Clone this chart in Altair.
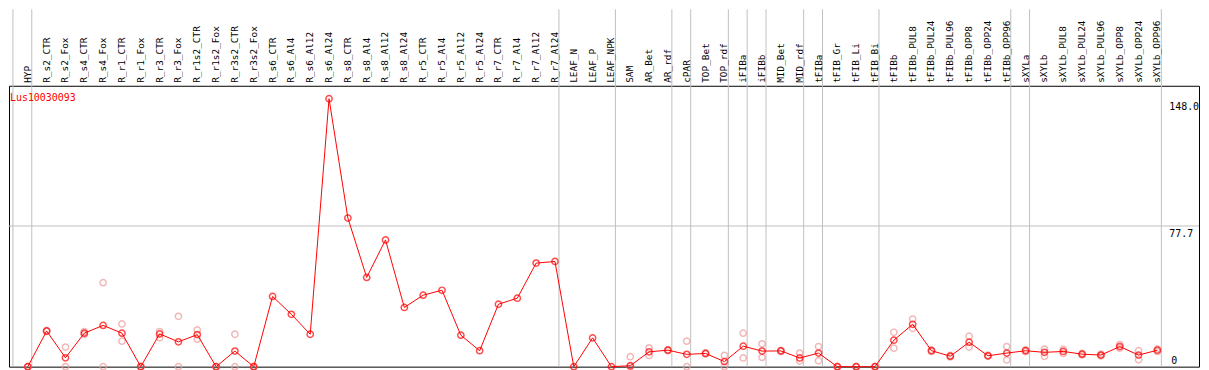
import altair as alt
import pandas as pd

gene = "Lus10030093"

categories = [
    "HYP", "R_s2_CTR", "R_s2_Fox", "R_s4_CTR", "R_s4_Fox", "R_r1_CTR", "R_r1_Fox",
    "R_r3_CTR", "R_r3_Fox", "R_r1s2_CTR", "R_r1s2_Fox", "R_r3s2_CTR", "R_r3s2_Fox",
    "R_s6_CTR", "R_s6_Al4", "R_s6_Al12", "R_s6_Al24", "R_s8_CTR", "R_s8_Al4",
    "R_s8_Al12", "R_s8_Al24", "R_r5_CTR", "R_r5_Al4", "R_r5_Al12", "R_r5_Al24",
    "R_r7_CTR", "R_r7_Al4", "R_r7_Al12", "R_r7_Al24", "LEAF_N", "LEAF_P", "LEAF_NPK",
    "SAM", "AR_Bet", "AR_rdf", "cPAR", "TOP_Bet", "TOP_rdf", "iFIBa", "iFIBb",
    "MID_Bet", "MID_rdf", "tFIBa", "tFIB_Gr", "tFIB_Li", "tFIB_Bi", "tFIBb",
    "tFIBb_PUL8", "tFIBb_PUL24", "tFIBb_PUL96", "tFIBb_OPP8", "tFIBb_OPP24",
    "tFIBb_OPP96", "sXYLa", "sXYLb", "sXYLb_PUL8", "sXYLb_PUL24", "sXYLb_PUL96",
    "sXYLb_OPP8", "sXYLb_OPP24", "sXYLb_OPP96",
]

means = [
    0.0, 19.7, 4.9, 18.5, 22.8, 18.5, 0.0, 18.1, 13.7, 17.7, 0.0, 8.6, 0.0,
    38.8, 28.9, 17.9, 148.0, 82.1, 49.3, 70.0, 32.7, 39.5, 42.2, 17.4, 8.8,
    34.5, 37.8, 57.2, 58.1, 0.0, 15.9, 0.0,
    0.5, 8.2, 9.1, 6.8, 7.3, 2.8, 11.3, 8.6, 8.7, 4.8, 7.5, 0.0, 0.0, 0.0, 14.6,
    23.4, 8.8, 5.8, 13.5, 6.0, 7.5, 8.8, 7.9, 8.4, 6.9, 6.4, 11.1, 6.4, 9.1,
]

rep1 = [
    0.0, 19.9, 10.8, 19.4, 46.4, 23.6, 0.0, 19.4, 27.8, 20.3, 0.0, 17.9, 0.0,
    None, None, None, None, None, None, None, None, None, None, None, None,
    None, None, None, None, None, None, None,
    5.5, 10.4, 9.4, 14.1, 7.6, 6.2, 18.5, 12.6, 9.0, 7.5, 11.1, 0.0, 0.0, 0.0, 19.0,
    26.3, 9.2, 6.2, 16.8, 6.3, 11.1, 9.3, 9.7, 9.5, 7.3, 6.9, 12.2, 8.8, 9.8,
]

rep2 = [
    0.0, 19.5, 0.0, 17.9, 0.0, 14.1, 0.0, 15.9, 0.0, 15.2, 0.0, 0.0, 0.0,
    None, None, None, None, None, None, None, None, None, None, None, None,
    None, None, None, None, None, None, None,
    0.0, 6.2, 8.8, 0.0, 7.0, 0.0, 4.8, 5.1, 8.4, 3.1, 3.3, 0.0, 0.0, 0.0, 10.2,
    21.2, 8.4, 5.4, 10.8, 5.7, 3.7, 8.3, 5.7, 7.3, 6.5, 5.9, 10.2, 3.8, 8.4,
]

# group boundaries: a separator follows these category indices
separators_after = [-1, 0, 28, 31, 34, 35, 37, 38, 39, 41, 42, 45, 52, 53, 60]
grid_values = [77.7]
tick_values = [148.0, 77.7]
tick_labels = ["148.0", "77.7"]

W, H = 1199, 283
xs = alt.Scale(domain=[-1.0, 62.21], nice=False, zero=False)
ys = alt.Scale(domain=[0, 155.15], nice=False, zero=False)

df = pd.DataFrame({"i": list(range(len(categories))), "cat": categories, "mean": means})
reps = []
for i, (a, b) in enumerate(zip(rep1, rep2)):
    for v in (a, b):
        if v is not None:
            reps.append({"i": i, "v": v})
reps = pd.DataFrame(reps)
sep = pd.DataFrame({"s": [a + 0.21 for a in separators_after]})
grid = pd.DataFrame({"g": grid_values})
ticks = pd.DataFrame({"v": tick_values, "t": tick_labels})
zero = pd.DataFrame({"v": [0.0], "t": ["0"]})
title = pd.DataFrame({"t": [gene]})

MONO = "DejaVu Sans Mono"
GRAY = "#c0c0c0"

sep_layer = alt.Chart(sep).mark_rule(color=GRAY, strokeWidth=1).encode(
    x=alt.X("s:Q", scale=xs, axis=None),
    y=alt.value(-77),
    y2=alt.value(H),
)
grid_layer = alt.Chart(grid).mark_rule(color=GRAY, strokeWidth=1).encode(
    y=alt.Y("g:Q", scale=ys, axis=None),
)
label_layer = alt.Chart(df).mark_text(
    angle=270, align="left", baseline="middle", font=MONO, fontSize=9.5, color="black"
).encode(
    x=alt.X("i:Q", scale=xs, axis=None),
    y=alt.value(-3),
    text="cat:N",
)
rep_layer = alt.Chart(reps).mark_point(
    shape="circle", filled=False, color="#ee9a9a", size=40, strokeWidth=1.5
).encode(
    x=alt.X("i:Q", scale=xs, axis=None),
    y=alt.Y("v:Q", scale=ys, axis=None),
)
line_layer = alt.Chart(df).mark_line(color="red", strokeWidth=1).encode(
    x=alt.X("i:Q", scale=xs, axis=None),
    y=alt.Y("mean:Q", scale=ys, axis=None),
)
pt_layer = alt.Chart(df).mark_point(
    shape="circle", filled=False, color="red", size=40, strokeWidth=1.5
).encode(
    x=alt.X("i:Q", scale=xs, axis=None),
    y=alt.Y("mean:Q", scale=ys, axis=None),
)
title_layer = alt.Chart(title).mark_text(
    align="left", baseline="middle", font=MONO, fontSize=10, color="red"
).encode(x=alt.value(1), y=alt.value(12), text="t:N")
tick_layer = alt.Chart(ticks).mark_text(
    align="left", baseline="top", font=MONO, fontSize=10, color="black", dy=3
).encode(
    x=alt.value(W - 30),
    y=alt.Y("v:Q", scale=ys, axis=None),
    text="t:N",
)
zero_layer = alt.Chart(zero).mark_text(
    align="left", baseline="bottom", font=MONO, fontSize=10, color="black", dy=-1
).encode(
    x=alt.value(W - 28),
    y=alt.Y("v:Q", scale=ys, axis=None),
    text="t:N",
)

chart = alt.layer(
    sep_layer, grid_layer, label_layer, rep_layer, line_layer, pt_layer,
    title_layer, tick_layer, zero_layer,
).properties(
    width=W, height=H,
    autosize=alt.AutoSizeParams(type="none"),
    padding={"left": 1, "top": 77, "right": 2, "bottom": 2},
    background="white",
).configure_view(stroke="black", strokeWidth=1)

chart.save("out.html", embed_options={"renderer": "svg", "actions": False})
